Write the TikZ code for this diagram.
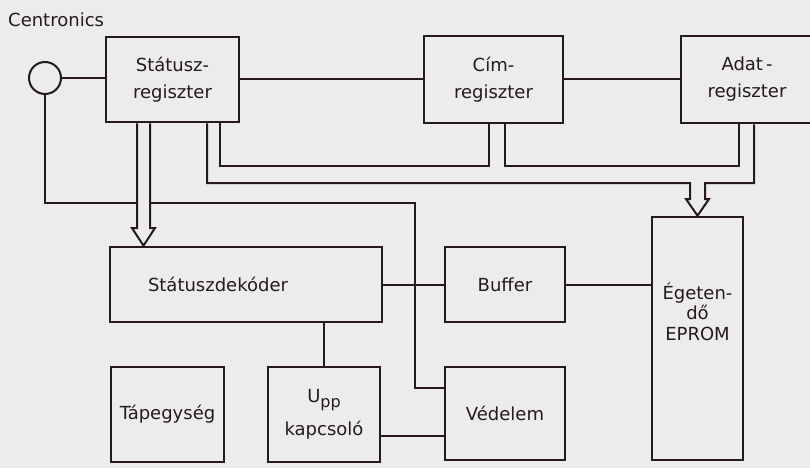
\documentclass[tikz,border=0pt]{standalone}
\usepackage{fontspec}
\newfontfamily\lab{DejaVu Sans}
\definecolor{ink}{RGB}{38,26,26}
\definecolor{paper}{RGB}{236,236,236}
\begin{document}
\begin{tikzpicture}[x=1pt,y=-1pt,
  box/.style={draw=ink, line width=2.6pt, inner sep=0pt, align=center, text=ink,
    font=\lab\fontsize{18}{27}\selectfont},
  wire/.style={draw=ink, line width=2pt, line join=miter},
  lbl/.style={inner sep=0pt, align=center, text=ink}]
\fill[paper] (0,0) rectangle (810,468);
\useasboundingbox (0,0) rectangle (810,468);

% boxes
\node[box, minimum width=133pt, minimum height=85pt] (stat) at (172.5,79.5) {Státusz-\\regiszter};
\node[box, minimum width=139pt, minimum height=87pt] (cim) at (493.5,79.5) {Cím-\\regiszter};
\node[box, minimum width=132pt, minimum height=87pt] (adat) at (747,79.5) {Adat\kern3pt-\\regiszter};
\node[box, minimum width=272pt, minimum height=75pt, text width=196pt, inner xsep=38pt, align=left] (dek) at (246,284.5) {Státuszdekóder};
\node[box, minimum width=113pt, minimum height=95pt] (tap) at (167.5,414.5) {Tápegység};
\node[box, minimum width=112pt, minimum height=95pt] (upp) at (324,414.5) {U\raisebox{-5pt}{\fontsize{16}{16}\selectfont pp}\\[6pt]kapcsoló};
\node[box, minimum width=120pt, minimum height=75pt] (buf) at (505,284.5) {Buffer};
\node[box, minimum width=120pt, minimum height=93pt] (ved) at (505,413.5) {Védelem};
\node[box, minimum width=91pt, minimum height=243pt] (eprom) at (697.5,338.5) {};
\node[lbl, font=\lab\fontsize{18}{20.5}\selectfont] (eptxt) at ([yshift=27pt]eprom.center) {Égeten-\\dő\\EPROM};

\node[draw=ink, line width=2pt, circle, minimum size=32pt, inner sep=0pt] (conn) at (45,78) {};
\node[lbl, anchor=base west, font=\lab\fontsize{18}{22}\selectfont] (centr) at (8,27) {Centronics};

% bend points
\coordinate (k1) at (220,166);
\coordinate (k2) at (489,166);
\coordinate (k3) at (505,166);
\coordinate (k4) at (739,166);
\coordinate (k5) at (207,183);
\coordinate (k6) at (690,183);
\coordinate (a2l) at (690,199);
\coordinate (a2lo) at (686,199);
\coordinate (a2ro) at (709,199);
\coordinate (a2r) at (705,199);
\coordinate (k10) at (705,183);
\coordinate (k11) at (754,183);
\coordinate (k7) at (415,203);
\coordinate (k8) at (415,388);
\coordinate (k9) at (400,436);
\coordinate (a1l) at (137,228);
\coordinate (a1lo) at (132,228);
\coordinate (a1ro) at (155,228);
\coordinate (a1r) at (150,228);
\coordinate (t1) at (143.5,0);

% connectors
\draw[wire] (conn.east) -- (conn.east -| stat.west);
\draw[wire] (stat.east) -- (cim.west);
\draw[wire] (cim.east) -- (adat.west);
\draw[wire] (stat.south -| k1) -- (k1) -- (k2) -- (cim.south -| k2);
\draw[wire] (cim.south -| k3) -- (k3) -- (k4) -- (adat.south -| k4);
\draw[wire] (stat.south -| k5) -- (k5) -- (k6) -- (a2l) -- (a2lo) -- (eprom.north)
  -- (a2ro) -- (a2r) -- (k10) -- (k11) -- (adat.south -| k11);
\draw[wire] (conn.south) |- (k7) -- (k8) -- (ved.west |- k8);
\draw[wire] (dek.east) -- (buf.west);
\draw[wire] (buf.east) -- (eprom.west |- buf.east);
\draw[wire] (dek.south -| upp.north) -- (upp.north);
\draw[wire] (upp.east |- k9) -- (ved.west |- k9);
\draw[wire, fill=paper] (stat.south -| a1l) -- (a1l) -- (a1lo) -- (dek.north -| t1)
  -- (a1ro) -- (a1r) -- (stat.south -| a1r);
\end{tikzpicture}
\end{document}
